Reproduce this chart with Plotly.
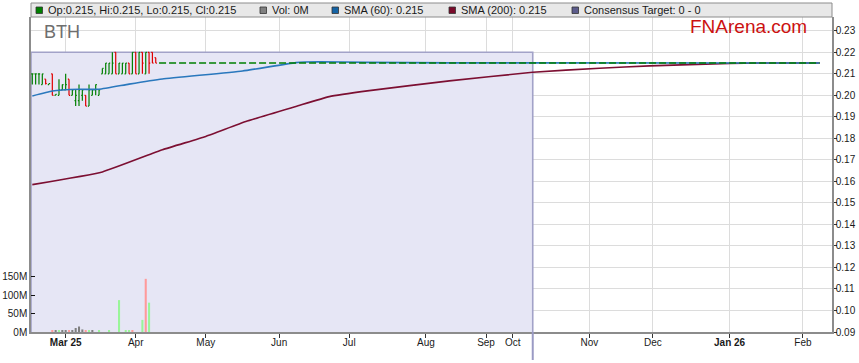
import plotly.graph_objects as go

# ---------------- data ----------------
# active trading records (index = trading-day number)
bar_open  = [0.21, 0.21, 0.21, 0.205, 0.2075, 0.205, 0.21, 0.20, 0.20, 0.2025,
             0.2025, 0.2075, 0.20, 0.1975, 0.1975, 0.20, 0.20, 0.195, 0.20, 0.2025,
             0.20, 0.21, 0.21, 0.21, 0.21, 0.22, 0.21, 0.21, 0.21, 0.215,
             0.21, 0.22, 0.21, 0.22, 0.21, 0.22, 0.22, 0.2175]
bar_high  = [0.21, 0.21, 0.21, 0.21, 0.2075, 0.2055, 0.21, 0.2005, 0.2075, 0.205,
             0.21, 0.2075, 0.2025, 0.2025, 0.205, 0.2025, 0.20, 0.205, 0.2025, 0.205,
             0.2025, 0.2125, 0.215, 0.215, 0.22, 0.22, 0.215, 0.215, 0.215, 0.215,
             0.22, 0.22, 0.22, 0.22, 0.22, 0.22, 0.22, 0.2175]
bar_low   = [0.205, 0.205, 0.205, 0.205, 0.205, 0.205, 0.20, 0.20, 0.20, 0.2025,
             0.2025, 0.20, 0.20, 0.195, 0.195, 0.1975, 0.195, 0.195, 0.20, 0.20,
             0.20, 0.21, 0.21, 0.21, 0.21, 0.21, 0.21, 0.21, 0.21, 0.21,
             0.21, 0.21, 0.21, 0.21, 0.21, 0.21, 0.215, 0.215]
bar_close = [0.21, 0.21, 0.21, 0.21, 0.2055, 0.2055, 0.20, 0.2005, 0.2025, 0.205,
             0.205, 0.20, 0.2025, 0.20, 0.2025, 0.2025, 0.195, 0.2025, 0.2025, 0.205,
             0.2025, 0.2125, 0.215, 0.215, 0.215, 0.21, 0.215, 0.215, 0.215, 0.21,
             0.22, 0.21, 0.22, 0.215, 0.22, 0.215, 0.215, 0.215]

# suspended period: price unchanged from record 38 to the last record
flat_price = 0.215
flat_idx = [38, 236]

# volume (millions)
vol_idx = [6, 7, 8, 9, 10, 11, 12, 13, 14, 15, 16, 17, 18, 20, 23, 26, 28, 29, 30, 33, 34, 35]
vol_m   = [4, 3, 3, 3, 3, 5, 3, 11, 15, 7, 3, 3, 3, 5, 5, 87, 3, 3, 3, 33, 145, 80]
vol_dir = ["d", "n", "u", "n", "n", "d", "n", "n", "n", "n", "d", "u", "n",
           "u", "u", "u", "u", "u", "d", "u", "d", "u"]

# moving averages
sma60_idx = [0, 6, 14, 20, 29, 39, 63, 79, 86, 100, 125, 236]
sma60_val = [0.1997, 0.2020, 0.2028, 0.2028, 0.2052, 0.2076, 0.2113, 0.2152, 0.2156, 0.2153, 0.2151, 0.2150]
sma200_idx = [0, 21, 39, 52, 64, 79, 89, 101, 125, 150, 170, 185, 209, 218, 236]
sma200_val = [0.1585, 0.1644, 0.1747, 0.1809, 0.1878, 0.1948, 0.1994, 0.2022, 0.2067,
              0.2107, 0.2126, 0.2137, 0.2148, 0.2150, 0.2150]

# consensus target band
target_low = 0.0
target_high = 0.22
target_end_idx = 150

# axis ticks
tick_idx = [10, 31, 52, 74, 95, 118, 136, 144, 167, 186, 209, 231]
tick_text = ["<b>Mar 25</b>", "Apr", "May", "Jun", "Jul", "Aug", "Sep", "Oct", "Nov", "Dec", "<b>Jan 26</b>", "Feb"]
price_ticks = [0.09, 0.10, 0.11, 0.12, 0.13, 0.14, 0.15, 0.16, 0.17, 0.18, 0.19, 0.20, 0.21, 0.22, 0.23]
vol_ticks_m = [0, 50, 100, 150]

ticker = "BTH"

# ---------------- geometry / style ----------------
W, H = 859, 363
ML, MR, MT, MB = 31, 27, 17, 31
PW, PH = W - ML - MR, H - MT - MB
X_RANGE = [-0.39, 239.7]
Y_RANGE = [0.09, 0.2364]
V_RANGE = [0, 859]
FONT = "Liberation Sans, Arial, sans-serif"

GREEN = "#008000"
RED = "#e00000"
BLUE = "#2a78bd"
MAROON = "#7c0f32"
LAV = "#e6e6f5"


def px_x(px):
    return (px - ML) / PW


def px_y(py):
    return (H - MB - py) / PH


fig = go.Figure()

# volume
vcol = {"u": "#99f599", "d": "#ff9a9a", "n": "#808080"}
fig.add_trace(go.Bar(x=vol_idx, y=vol_m, yaxis="y2", width=0.62,
                     marker=dict(color=[vcol[d] for d in vol_dir], line=dict(width=0)),
                     hoverinfo="skip"))

# moving averages
fig.add_trace(go.Scatter(x=sma200_idx, y=sma200_val, mode="lines",
                         line=dict(color=MAROON, width=1.6, shape="spline", smoothing=0.4)))
fig.add_trace(go.Scatter(x=sma60_idx, y=sma60_val, mode="lines",
                         line=dict(color=BLUE, width=1.6, shape="spline", smoothing=0.4)))

# price bars
idx = list(range(len(bar_open)))
fig.add_trace(go.Ohlc(x=idx, open=bar_open, high=bar_high, low=bar_low, close=bar_close,
                      increasing=dict(line=dict(color=GREEN, width=1.2)),
                      decreasing=dict(line=dict(color=RED, width=1.2)),
                      tickwidth=0.35))
# flat (suspended) price
fig.add_trace(go.Scatter(x=flat_idx, y=[flat_price, flat_price], mode="lines",
                         line=dict(color=GREEN, width=1.5, dash="7px,3px")))

shapes = []
# consensus band
shapes.append(dict(type="rect", xref="x", yref="y", x0=X_RANGE[0], x1=target_end_idx,
                   y0=target_low, y1=target_high, fillcolor=LAV,
                   line=dict(color="#a2a2c8", width=1.6), layer="between"))
shapes.append(dict(type="line", xref="x", yref="paper", x0=target_end_idx, x1=target_end_idx,
                   y0=px_y(360), y1=0, line=dict(color="#9a9ac4", width=2)))
# legend bar
shapes.append(dict(type="rect", xref="paper", yref="paper", x0=0, x1=1, y0=1, y1=px_y(3),
                   fillcolor="#e8e8e8", line=dict(color="#8c8c8c", width=1)))

annotations = []
last_o, last_h, last_l, last_c = flat_price, flat_price, flat_price, flat_price
legend_items = [
    (f"Op:{last_o}, Hi:{last_h}, Lo:{last_l}, Cl:{last_c}", GREEN, 36),
    ("Vol: 0M", "#808080", 260),
    (f"SMA (60): {sma60_val[-1]:.3f}", "#1463a5", 332),
    (f"SMA (200): {sma200_val[-1]:.3f}", "#7a0a2a", 449),
    (f"Consensus Target: {target_low:g} - {target_low:g}", "#5c5c8c", 572),
]
for text, col, xpx in legend_items:
    shapes.append(dict(type="rect", xref="paper", yref="paper", x0=px_x(xpx), x1=px_x(xpx + 6.5),
                       y0=px_y(13.5), y1=px_y(7), fillcolor=col, line=dict(color="#333333", width=0.8)))
    annotations.append(dict(xref="paper", yref="paper", x=px_x(xpx + 10), y=px_y(10),
                            xanchor="left", yanchor="middle", showarrow=False, text=text,
                            font=dict(family=FONT, size=11, color="#1a1a1a")))

annotations.append(dict(xref="paper", yref="paper", x=px_x(42), y=px_y(32), xanchor="left",
                        yanchor="middle", showarrow=False, text=ticker,
                        font=dict(family=FONT, size=18, color="#6e6e6e")))
annotations.append(dict(xref="paper", yref="paper", x=px_x(809), y=px_y(26), xanchor="right",
                        yanchor="middle", showarrow=False, text="FNArena.com",
                        font=dict(family=FONT, size=19, color="#cc1111")))

fig.update_layout(
    width=W, height=H,
    margin=dict(l=ML, r=MR, t=MT, b=MB, pad=0, autoexpand=False),
    paper_bgcolor="white", plot_bgcolor="white",
    showlegend=False,
    font=dict(family=FONT, size=10, color="#1a1a1a"),
    shapes=shapes, annotations=annotations,
    xaxis=dict(range=X_RANGE, rangeslider=dict(visible=False), tickmode="array",
               tickvals=tick_idx, ticktext=tick_text, ticks="outside", ticklen=4,
               tickcolor="#333333", showgrid=True, gridcolor="#dcdcdc", gridwidth=1,
               showline=True, linecolor="#8c8c8c", linewidth=1.5, zeroline=False,
               automargin=False, ticklabelstandoff=-4,
               tickfont=dict(family=FONT, size=10, color="#1a1a1a")),
    yaxis=dict(range=Y_RANGE, side="right", tickmode="array", tickvals=price_ticks,
               ticktext=[f"{v:.2f}" for v in price_ticks], ticks="outside", ticklen=3,
               tickcolor="#333333", showgrid=True, gridcolor="#dcdcdc", gridwidth=1,
               showline=True, linecolor="#8c8c8c", linewidth=1.5, zeroline=False,
               automargin=False, ticklabelstandoff=-3,
               tickfont=dict(family=FONT, size=10, color="#1a1a1a")),
    yaxis2=dict(range=V_RANGE, overlaying="y", side="left", tickmode="array",
                tickvals=vol_ticks_m, ticktext=[f"{v}M" for v in vol_ticks_m],
                ticks="inside", ticklen=4, tickcolor="#111111", showgrid=False,
                showline=True, linecolor="#8c8c8c", linewidth=1.5, zeroline=False,
                automargin=False,
                tickfont=dict(family=FONT, size=10, color="#1a1a1a")),
)

fig.write_html("out.html", config={"displayModeBar": False},
               post_script="document.body.style.margin='0px';document.body.style.padding='0px';")
